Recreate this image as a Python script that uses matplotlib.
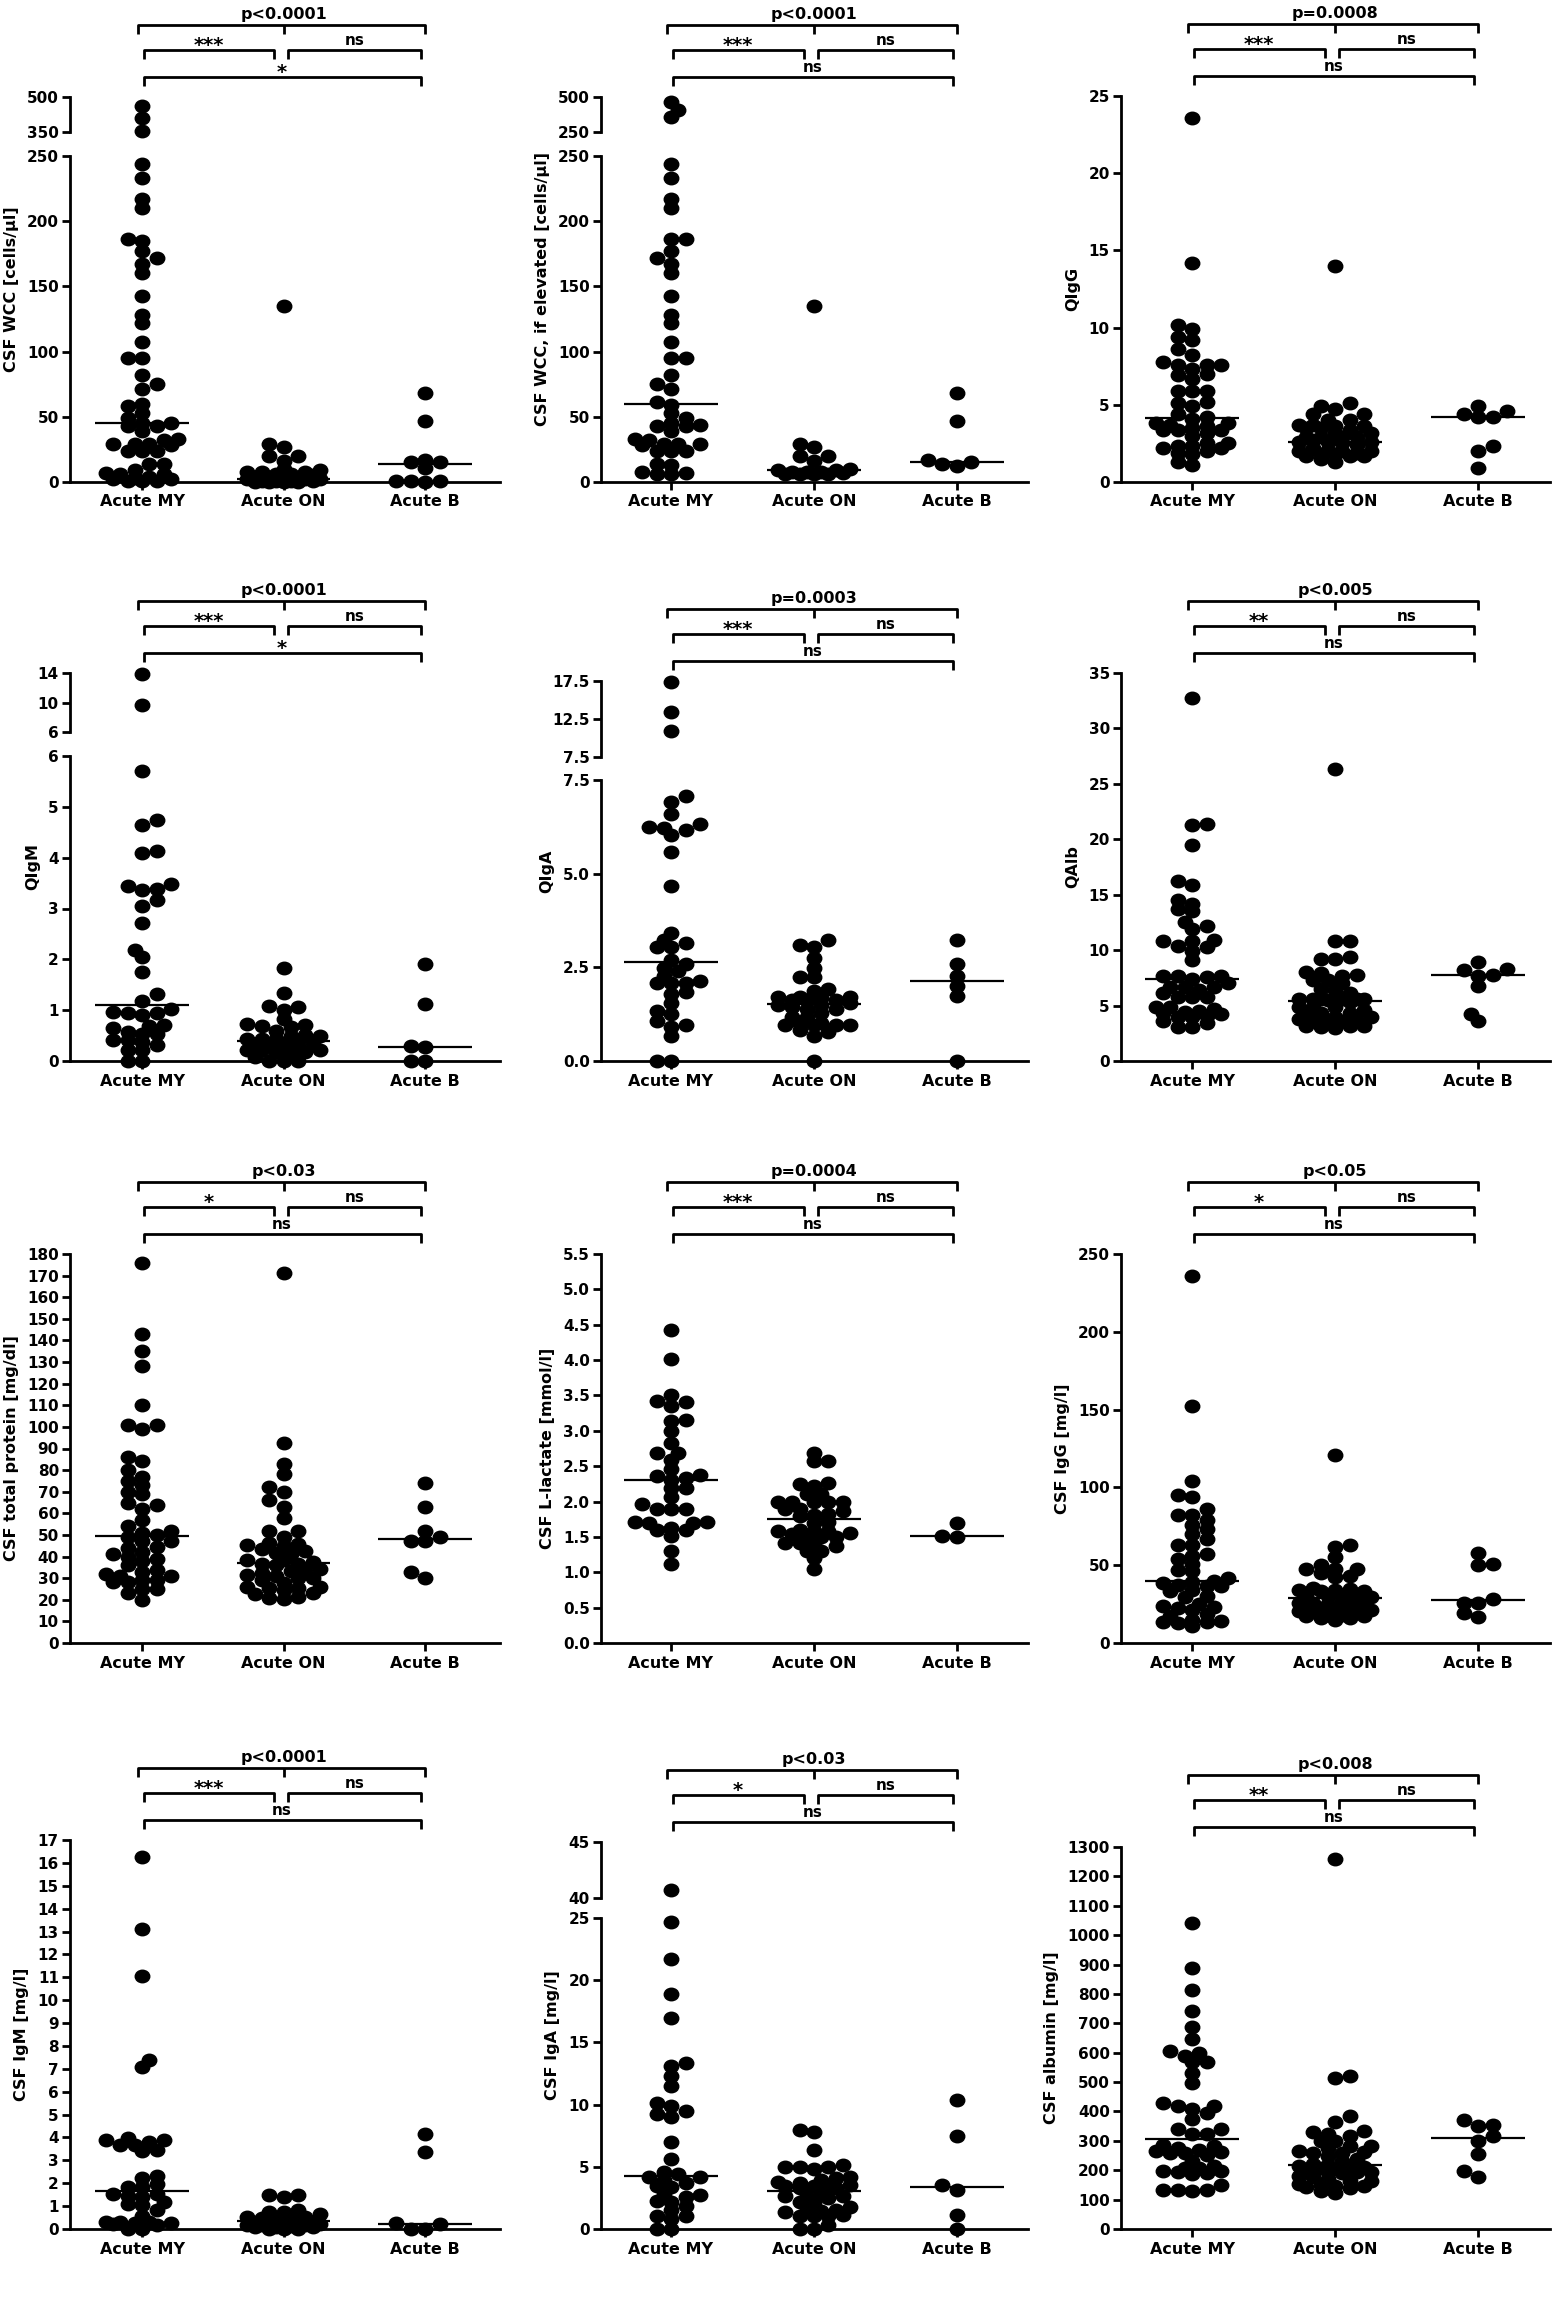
import numpy as np
import matplotlib
matplotlib.use("Agg")
import matplotlib.pyplot as plt
from matplotlib.path import Path
from matplotlib.transforms import Affine2D
from matplotlib.lines import Line2D

plt.rcParams['font.family'] = ['DejaVu Sans']
plt.rcParams['font.weight'] = 'bold'
plt.rcParams['axes.linewidth'] = 2

W, H = 1555, 2312
groups = ['Acute MY', 'Acute ON', 'Acute B']

# ---------------- data ----------------
wcc_my = [461, 409, 353, 244, 233, 217, 210, 186, 185, 177, 172, 167, 160, 143, 128, 122, 107, 95, 95,
          82, 75, 71, 60, 58, 53, 49, 45, 45, 43, 43, 39, 33, 32, 29, 29, 29, 28, 24, 24, 24, 14, 14,
          9, 7, 6, 6, 4, 3, 2, 2, 1, 1, 1]
wcc_on = [135, 29, 27, 20, 20, 16, 10, 9, 8, 8, 8, 6, 6, 5, 4, 4, 3, 3, 2, 2, 2, 1, 1, 1, 1, 0, 0, 0, 0]
wcc_b = [68, 47, 17, 15, 15, 11, 1, 1, 1, 0]
wcc_med = [45, 2, 13.5]

wcce_my = [465, 410, 355, 244, 233, 217, 210, 186, 186, 177, 172, 167, 160, 143, 128, 122, 107, 95, 95,
           82, 75, 71, 61, 59, 53, 49, 45, 44, 43, 43, 39, 33, 32, 29, 29, 29, 28, 24, 24, 24, 14, 13,
           8, 7, 6, 6]
wcce_on = [135, 29, 27, 20, 20, 16, 10, 9, 9, 8, 8, 8, 7, 6, 6, 6, 6]
wcce_b = [68, 47, 17, 15, 14, 12]
wcce_med = [60, 9, 15.3]

qigg_my = [23.6, 14.2, 10.2, 9.9, 9.4, 9.2, 8.6, 8.2, 7.8, 7.6, 7.6, 7.6, 7.3, 6.9, 6.7, 7.0, 5.9, 5.9,
           5.9, 4.9, 5.1, 5.2, 4.2, 4.4, 4.1, 3.8, 3.8, 3.4, 3.4, 3.6, 3.5, 3.7, 3.4, 3.0, 3.2, 2.5,
           2.3, 2.5, 2.3, 2.2, 1.8, 2.0, 2.2, 1.9, 1.1, 1.3]
qigg_on = [14.0, 4.9, 4.4, 4.4, 4.7, 5.1, 4.0, 4.0, 3.5, 3.7, 3.4, 3.6, 3.2, 3.6, 3.2, 3.7, 3.5, 2.5,
           2.9, 2.4, 2.9, 2.7, 2.6, 2.6, 2.9, 2.6, 2.9, 2.0, 1.8, 2.0, 1.7, 2.1, 2.2, 1.8, 1.5, 1.9,
           1.7, 2.0, 1.3, 1.7]
qigg_b = [4.9, 4.4, 4.2, 4.2, 4.6, 2.3, 2.0, 0.9]
qigg_med = [4.15, 2.6, 4.2]

qigm_my = [13.9, 9.7, 5.7, 4.75, 4.64, 4.1, 4.14, 3.49, 3.39, 3.36, 3.44, 3.05, 3.17, 2.71, 2.18, 2.05,
           1.76, 1.31, 1.19, 0.96, 0.94, 0.91, 0.94, 1.03, 0.68, 0.64, 0.7, 0.54, 0.58, 0.54, 0.42,
           0.37, 0.31, 0.42, 0.21, 0.22, 0, 0]
qigm_on = [1.82, 1.34, 1.06, 1.08, 1.0, 0.83, 0.73, 0.68, 0.66, 0.7, 0.6, 0.49, 0.44, 0.44, 0.49, 0.52,
           0.44, 0.34, 0.35, 0.39, 0.34, 0.35, 0.22, 0.18, 0.21, 0.18, 0.21, 0.21, 0.14, 0.29, 0, 0, 0,
           0.07]
qigm_b = [1.9, 1.13, 0.28, 0.29, 0, 0]
qigm_med = [1.1, 0.4, 0.27]

qiga_my = [17.4, 13.4, 10.9, 7.07, 6.9, 6.58, 6.32, 6.23, 6.03, 6.16, 6.25, 5.58, 4.68, 3.42, 3.15, 3.24,
           3.05, 3.05, 2.6, 2.69, 2.47, 2.4, 2.26, 2.14, 2.07, 2.07, 2.07, 1.84, 1.78, 1.56, 1.34, 1.25,
           1.07, 0.91, 0.97, 0.66, 0, 0]
qiga_on = [3.22, 3.09, 3.05, 2.76, 2.47, 2.23, 2.23, 1.87, 1.91, 1.71, 1.71, 1.71, 1.62, 1.62, 1.62,
           1.67, 1.55, 1.4, 1.49, 1.44, 1.49, 1.4, 1.28, 1.18, 1.18, 0.95, 0.95, 1.02, 0.98, 0.95, 0.95,
           0.77, 0.82, 0.66, 0]
qiga_b = [3.24, 2.58, 2.27, 2.0, 1.73, 0]
qiga_med = [2.64, 1.51, 2.14]

qalb_my = [32.7, 21.3, 21.4, 19.5, 15.9, 16.2, 14.5, 13.7, 13.5, 14.2, 12.5, 11.9, 12.2, 10.9, 10.8,
           10.3, 10.4, 10.8, 9.9, 9.1, 7.6, 7.7, 7.7, 7.4, 7.7, 7.0, 6.4, 6.7, 6.7, 6.7, 5.8, 5.8, 5.8,
           6.1, 4.9, 4.9, 4.7, 4.0, 4.4, 4.1, 4.3, 4.0, 4.5, 4.2, 3.4, 3.6, 3.1, 3.1]
qalb_on = [26.3, 10.8, 10.8, 9.4, 9.2, 9.2, 7.7, 7.9, 7.3, 8.0, 7.3, 7.8, 7.0, 6.4, 6.5, 6.1, 5.6, 5.6,
           5.6, 5.6, 5.6, 5.6, 5.6, 5.3, 5.5, 4.6, 4.9, 4.9, 4.9, 4.3, 4.0, 4.3, 4.3, 4.0, 3.7, 3.5,
           3.6, 3.7, 3.8, 3.2, 3.2, 3.0, 3.1, 3.2]
qalb_b = [8.9, 8.2, 8.3, 7.7, 7.8, 6.8, 4.2, 3.6]
qalb_med = [7.4, 5.4, 7.8]

prot_my = [176, 143, 135, 128, 110, 101, 99, 101, 86, 84, 80, 77, 75, 73, 69, 70, 64, 65, 62, 57, 54,
           50, 51, 52, 47, 47, 49, 44.5, 44, 42, 41, 40, 39, 38, 36, 34, 33, 32, 31, 31, 29, 29, 28,
           28, 25, 23, 25, 20]
prot_on = [171, 92.5, 83, 78, 72, 70, 66, 63, 58, 52, 52, 49, 46.5, 45.7, 45.2, 44.9, 43.4, 41.8, 41.4,
           42.5, 37.5, 36.7, 38.3, 38.3, 36, 36.7, 33.3, 34.4, 32.4, 33.3, 30.3, 31.3, 29, 30.3, 30.9,
           27.8, 25.9, 25.6, 24.7, 25.9, 25.6, 23.3, 22.8, 21.3, 20.2, 21]
prot_b = [74, 63, 52, 47, 47, 49, 33, 30]
prot_med = [49.5, 37, 48.3]

lact_my = [4.43, 4.02, 3.51, 3.41, 3.35, 3.42, 3.16, 3.14, 3.0, 2.83, 2.69, 2.68, 2.59, 2.46, 2.33,
           2.37, 2.3, 2.36, 2.19, 2.19, 2.07, 1.96, 1.9, 1.89, 1.89, 1.71, 1.71, 1.7, 1.7, 1.63, 1.6,
           1.6, 1.51, 1.3, 1.12]
lact_on = [2.68, 2.57, 2.57, 2.26, 2.22, 2.25, 2.11, 2.1, 2.0, 2.0, 2.0, 2.0, 2.0, 1.86, 1.9, 1.9, 1.81,
           1.79, 1.83, 1.71, 1.7, 1.6, 1.59, 1.59, 1.59, 1.55, 1.54, 1.51, 1.5, 1.5, 1.41, 1.41, 1.37,
           1.4, 1.3, 1.3, 1.2, 1.04]
lact_b = [1.7, 1.5, 1.51]
lact_med = [2.31, 1.75, 1.51]

igg_my = [236, 152, 104, 95, 94, 86, 82, 82, 79, 76, 73, 70, 67, 63, 63, 56, 57, 54, 51, 47, 46, 42,
          37.5, 36.4, 39.2, 38.6, 39.6, 36.4, 33.2, 33.8, 29.3, 30, 24, 25.3, 22.5, 22.9, 21, 17.1,
          18.6, 14.4, 13.3, 15, 12.9, 13.3, 10.7]
igg_on = [121, 63, 62, 55, 50, 47.6, 47.6, 47.6, 45, 43.3, 42.2, 35.3, 34.3, 33.2, 33.2, 33.8, 34.7,
          30.4, 29.3, 28.9, 31.1, 30.4, 25.7, 26.8, 24, 23.6, 25.3, 25.7, 23.1, 21, 22.5, 21.4, 21.9,
          20.4, 19.7, 17.6, 16.1, 15, 16.1, 17.1, 18.2, 18.2]
igg_b = [58, 50, 51, 28, 26, 26, 17, 19]
igg_med = [39.6, 28.9, 27.4]

igm_my = [16.27, 13.1, 11.06, 7.4, 7.08, 3.79, 3.68, 3.91, 3.87, 3.97, 3.68, 3.39, 3.46, 2.33, 2.23,
          1.97, 1.82, 1.82, 1.46, 1.53, 1.53, 1.39, 1.17, 1.05, 1.09, 0.85, 0.58, 0.26, 0.32, 0.29,
          0.26, 0.29, 0.22, 0.18, 0, 0]
igm_on = [1.49, 1.39, 1.49, 0.85, 0.76, 0.66, 0.73, 0.51, 0.44, 0.41, 0.51, 0.47, 0.29, 0.32, 0.29,
          0.29, 0.22, 0.22, 0.18, 0.18, 0.18, 0, 0, 0, 0.12, 0.07, 0.07, 0.07]
igm_b = [4.16, 3.36, 0.22, 0.25, 0, 0]
igm_med = [1.68, 0.34, 0.22]

iga_my = [40.7, 24.65, 21.7, 18.9, 16.93, 13.34, 13.08, 12.27, 11.47, 10.1, 9.86, 9.51, 9.24, 9.03,
          7.02, 5.63, 4.61, 4.15, 3.97, 4.15, 4.42, 3.7, 3.43, 3.35, 2.81, 2.55, 2.73, 2.28, 2.2,
          1.88, 1.55, 0.8, 1.07, 1.07, 0, 0]
iga_on = [7.96, 7.77, 6.38, 5.17, 5.01, 4.82, 4.96, 5.01, 4.07, 3.75, 3.97, 4.15, 3.48, 3.54, 3.27,
          3.7, 3.54, 3.27, 3.48, 2.81, 2.68, 2.47, 2.63, 2.63, 2.09, 2.14, 1.55, 1.47, 1.13, 1.74, 1.39,
          1.55, 1.02, 1.07, 1.02, 0.32, 0, 0]
iga_b = [10.37, 7.45, 3.56, 3.16, 1.13, 0]
iga_med = [4.29, 3.08, 3.35]

alb_my = [1040, 887, 812, 742, 689, 647, 600, 606, 590, 567, 567, 530, 496, 419, 419, 408, 428, 394,
          375, 340, 340, 324, 323, 287, 275, 270, 281, 264, 258, 253, 258, 261, 232, 216, 196, 207,
          190, 207, 187, 194, 196, 151, 134, 130, 134, 134]
alb_on = [1260, 513, 519, 386, 364, 334, 330, 315, 323, 298, 300, 281, 275, 284, 258, 264, 258, 262,
          250, 239, 230, 219, 221, 216, 205, 210, 207, 210, 190, 194, 198, 194, 194, 176, 171, 179,
          162, 153, 162, 145, 139, 148, 151, 142, 130, 122]
alb_b = [371, 354, 352, 318, 300, 255, 198, 176]
alb_med = [307, 218, 309]

panels = [
    dict(data=(wcc_my, wcc_on, wcc_b), med=wcc_med, ylabel='CSF WCC [cells/µl]', p='p<0.0001',
         sig=('***', 'ns', '*'), ylim=(0, 250), yticks=[0, 50, 100, 150, 200, 250],
         up=(350, 500), upticks=[350, 500], fmt='%d'),
    dict(data=(wcce_my, wcce_on, wcce_b), med=wcce_med, ylabel='CSF WCC, if elevated [cells/µl]',
         p='p<0.0001', sig=('***', 'ns', 'ns'), ylim=(0, 250), yticks=[0, 50, 100, 150, 200, 250],
         up=(250, 500), upticks=[250, 500], fmt='%d'),
    dict(data=(qigg_my, qigg_on, qigg_b), med=qigg_med, ylabel='QIgG', p='p=0.0008',
         sig=('***', 'ns', 'ns'), ylim=(0, 25), yticks=[0, 5, 10, 15, 20, 25], up=None, fmt='%d'),
    dict(data=(qigm_my, qigm_on, qigm_b), med=qigm_med, ylabel='QIgM', p='p<0.0001',
         sig=('***', 'ns', '*'), ylim=(0, 6), yticks=[0, 1, 2, 3, 4, 5, 6],
         up=(6, 14), upticks=[6, 10, 14], fmt='%d'),
    dict(data=(qiga_my, qiga_on, qiga_b), med=qiga_med, ylabel='QIgA', p='p=0.0003',
         sig=('***', 'ns', 'ns'), ylim=(0, 7.5), yticks=[0, 2.5, 5.0, 7.5],
         up=(7.5, 17.5), upticks=[7.5, 12.5, 17.5], fmt='%.1f'),
    dict(data=(qalb_my, qalb_on, qalb_b), med=qalb_med, ylabel='QAlb', p='p<0.005',
         sig=('**', 'ns', 'ns'), ylim=(0, 35), yticks=[0, 5, 10, 15, 20, 25, 30, 35], up=None, fmt='%d'),
    dict(data=(prot_my, prot_on, prot_b), med=prot_med, ylabel='CSF total protein [mg/dl]', p='p<0.03',
         sig=('*', 'ns', 'ns'), ylim=(0, 180), yticks=list(range(0, 181, 10)), up=None, fmt='%d'),
    dict(data=(lact_my, lact_on, lact_b), med=lact_med, ylabel='CSF L-lactate [mmol/l]', p='p=0.0004',
         sig=('***', 'ns', 'ns'), ylim=(0, 5.5), yticks=list(np.arange(0, 5.51, 0.5)), up=None, fmt='%.1f'),
    dict(data=(igg_my, igg_on, igg_b), med=igg_med, ylabel='CSF IgG [mg/l]', p='p<0.05',
         sig=('*', 'ns', 'ns'), ylim=(0, 250), yticks=[0, 50, 100, 150, 200, 250], up=None, fmt='%d'),
    dict(data=(igm_my, igm_on, igm_b), med=igm_med, ylabel='CSF IgM [mg/l]', p='p<0.0001',
         sig=('***', 'ns', 'ns'), ylim=(0, 17), yticks=list(range(0, 18)), up=None, fmt='%d'),
    dict(data=(iga_my, iga_on, iga_b), med=iga_med, ylabel='CSF IgA [mg/l]', p='p<0.03',
         sig=('*', 'ns', 'ns'), ylim=(0, 25), yticks=[0, 5, 10, 15, 20, 25],
         up=(40, 45), upticks=[40, 45], fmt='%d'),
    dict(data=(alb_my, alb_on, alb_b), med=alb_med, ylabel='CSF albumin [mg/l]', p='p<0.008',
         sig=('**', 'ns', 'ns'), ylim=(0, 1300), yticks=list(range(0, 1301, 100)), up=None, fmt='%d'),
]

# ---------------- layout, in pixels of the final image ----------------
col_left = [70, 601, 1121]
col_cat0 = [142, 671, 1192]
col_step = [141.5, 143, 143]
col_right = [500, 1028, 1550]
row_base = [482, 1061, 1643, 2229]
lower_top = [156, 156, 96, 756, 780, 673, 1254, 1254, 1254, 1840, 1918, 1847]
upper_span = [(97, 132), (97, 132), None, (673, 732), (681, 757), None,
              None, None, None, None, (1842, 1898), None]

DOT_W, DOT_H = 14.5, 12.5   # px
ellipse = Path.unit_circle().transformed(Affine2D().scale(DOT_W / DOT_H, 1.0))

fig = plt.figure(figsize=(W / 100, H / 100), dpi=100)


def px_axes(l, r, top, bottom):
    return fig.add_axes([l / W, 1 - bottom / H, (r - l) / W, (bottom - top) / H])


def style(ax, xaxis=True):
    for s in ['top', 'right']:
        ax.spines[s].set_visible(False)
    ax.spines['left'].set_linewidth(2)
    ax.spines['bottom'].set_linewidth(2)
    ax.tick_params(axis='y', width=2, length=6, labelsize=11, pad=2)
    ax.tick_params(axis='x', width=2, length=6, labelsize=11.5, pad=3)
    ax.patch.set_alpha(0)
    if not xaxis:
        ax.spines['bottom'].set_visible(False)
        ax.set_xticks([])


def swarm(ypix, max_k=5):
    # compact scatter: dots sit side by side in rows, width is limited and
    # dots overlap when a row is crowded (as the original plotting program does)
    cw, ch = DOT_W * 0.95, DOT_H * 0.62
    step = DOT_W / 2
    placed = []
    xs = np.zeros(len(ypix))
    for j, i in enumerate(np.argsort(ypix)):
        y = ypix[i]
        sgn = 1 if j % 2 == 0 else -1
        cands = [0.0]
        for k in range(1, max_k + 1):
            cands += [sgn * k * step, -sgn * k * step]
        best, best_d = 0.0, -1
        for c in cands:
            d = min([np.hypot((c - px) / cw, (y - py) / ch) for px, py in placed] + [9])
            if d >= 1:
                best = c
                break
            if d > best_d + 1e-6:
                best, best_d = c, d
        xs[i] = best
        placed.append((best, y))
    return xs


def fline(xs, ys):
    fig.add_artist(Line2D([x / W for x in xs], [1 - y / H for y in ys], transform=fig.transFigure,
                          color='k', lw=2, solid_capstyle='butt'))


for n, pan in enumerate(panels):
    c, r = n % 3, n // 3
    left, right, base = col_left[c], col_right[c], row_base[r]
    cat0, step = col_cat0[c], col_step[c]
    xlim = ((left - cat0) / step, (right - cat0) / step)

    ax = px_axes(left, right, lower_top[n], base)
    style(ax)
    ax.set_xlim(*xlim)
    ax.set_ylim(*pan['ylim'])
    ax.set_xticks([0, 1, 2])
    ax.set_xticklabels(groups)
    ax.set_yticks(pan['yticks'])
    ax.set_yticklabels([pan['fmt'] % t for t in pan['yticks']])

    up_ax = None
    if pan['up'] is not None:
        ut, ub = upper_span[n]
        up_ax = px_axes(left, right, ut, ub)
        style(up_ax, xaxis=False)
        up_ax.set_xlim(*xlim)
        up_ax.set_ylim(*pan['up'])
        up_ax.set_yticks(pan['upticks'])
        up_ax.set_yticklabels([pan['fmt'] % t for t in pan['upticks']])
        top_px = ut
    else:
        top_px = lower_top[n]

    # y label centred on the full axis span
    ax.set_ylabel(pan['ylabel'], fontsize=11.5, fontweight='bold', labelpad=6)
    ax.yaxis.label.set_y((base - (top_px + base) / 2) / (base - lower_top[n]))

    # dots
    for g, vals in enumerate(pan['data']):
        vals = np.asarray(vals, dtype=float)
        on_up = np.zeros(len(vals), bool)
        if up_ax is not None:
            on_up = vals > pan['ylim'][1]
        ypix = np.array([(up_ax if u else ax).transData.transform((g, v))[1] for v, u in zip(vals, on_up)])
        xoff = swarm(ypix) / step
        for target, mask in ((ax, ~on_up), (up_ax, on_up)):
            if target is None or not mask.any():
                continue
            target.plot(g + xoff[mask], vals[mask], linestyle='none', marker=ellipse,
                        markersize=DOT_W * 0.72, color='k', clip_on=False, zorder=3)
        ax.plot([g - 0.33, g + 0.33], [pan['med'][g]] * 2, color='k', lw=1.6, zorder=4,
                solid_capstyle='butt')

    # significance brackets
    X = lambda u: cat0 + u * step
    y_top, y_mid, y_bot = top_px - 72, top_px - 47, top_px - 20
    drop = 9
    fline([X(-0.03), X(-0.03), X(2.0), X(2.0)], [y_top + drop, y_top, y_top, y_top + drop])
    fline([X(1.0), X(1.0)], [y_top, y_top + drop])
    fline([X(0.015), X(0.015), X(0.93), X(0.93)], [y_mid + drop, y_mid, y_mid, y_mid + drop])
    fline([X(1.03), X(1.03), X(1.97), X(1.97)], [y_mid + drop, y_mid, y_mid, y_mid + drop])
    fline([X(0.015), X(0.015), X(1.97), X(1.97)], [y_bot + drop, y_bot, y_bot, y_bot + drop])

    fig.text(X(1.0) / W, 1 - (y_top - 6) / H, pan['p'], ha='center', va='baseline',
             fontsize=11.5, fontweight='bold')
    for s, xu, yl in zip(pan['sig'], (0.47, 1.5, 0.99), (y_mid, y_mid, y_bot)):
        if '*' in s:
            fig.text(X(xu) / W, 1 - (yl + 1) / H, s, ha='center', va='baseline',
                     fontsize=14, fontweight='bold')
        else:
            fig.text(X(xu) / W, 1 - (yl - 5) / H, s, ha='center', va='baseline',
                     fontsize=11, fontweight='bold')

fig.savefig('out.png', dpi=100)
